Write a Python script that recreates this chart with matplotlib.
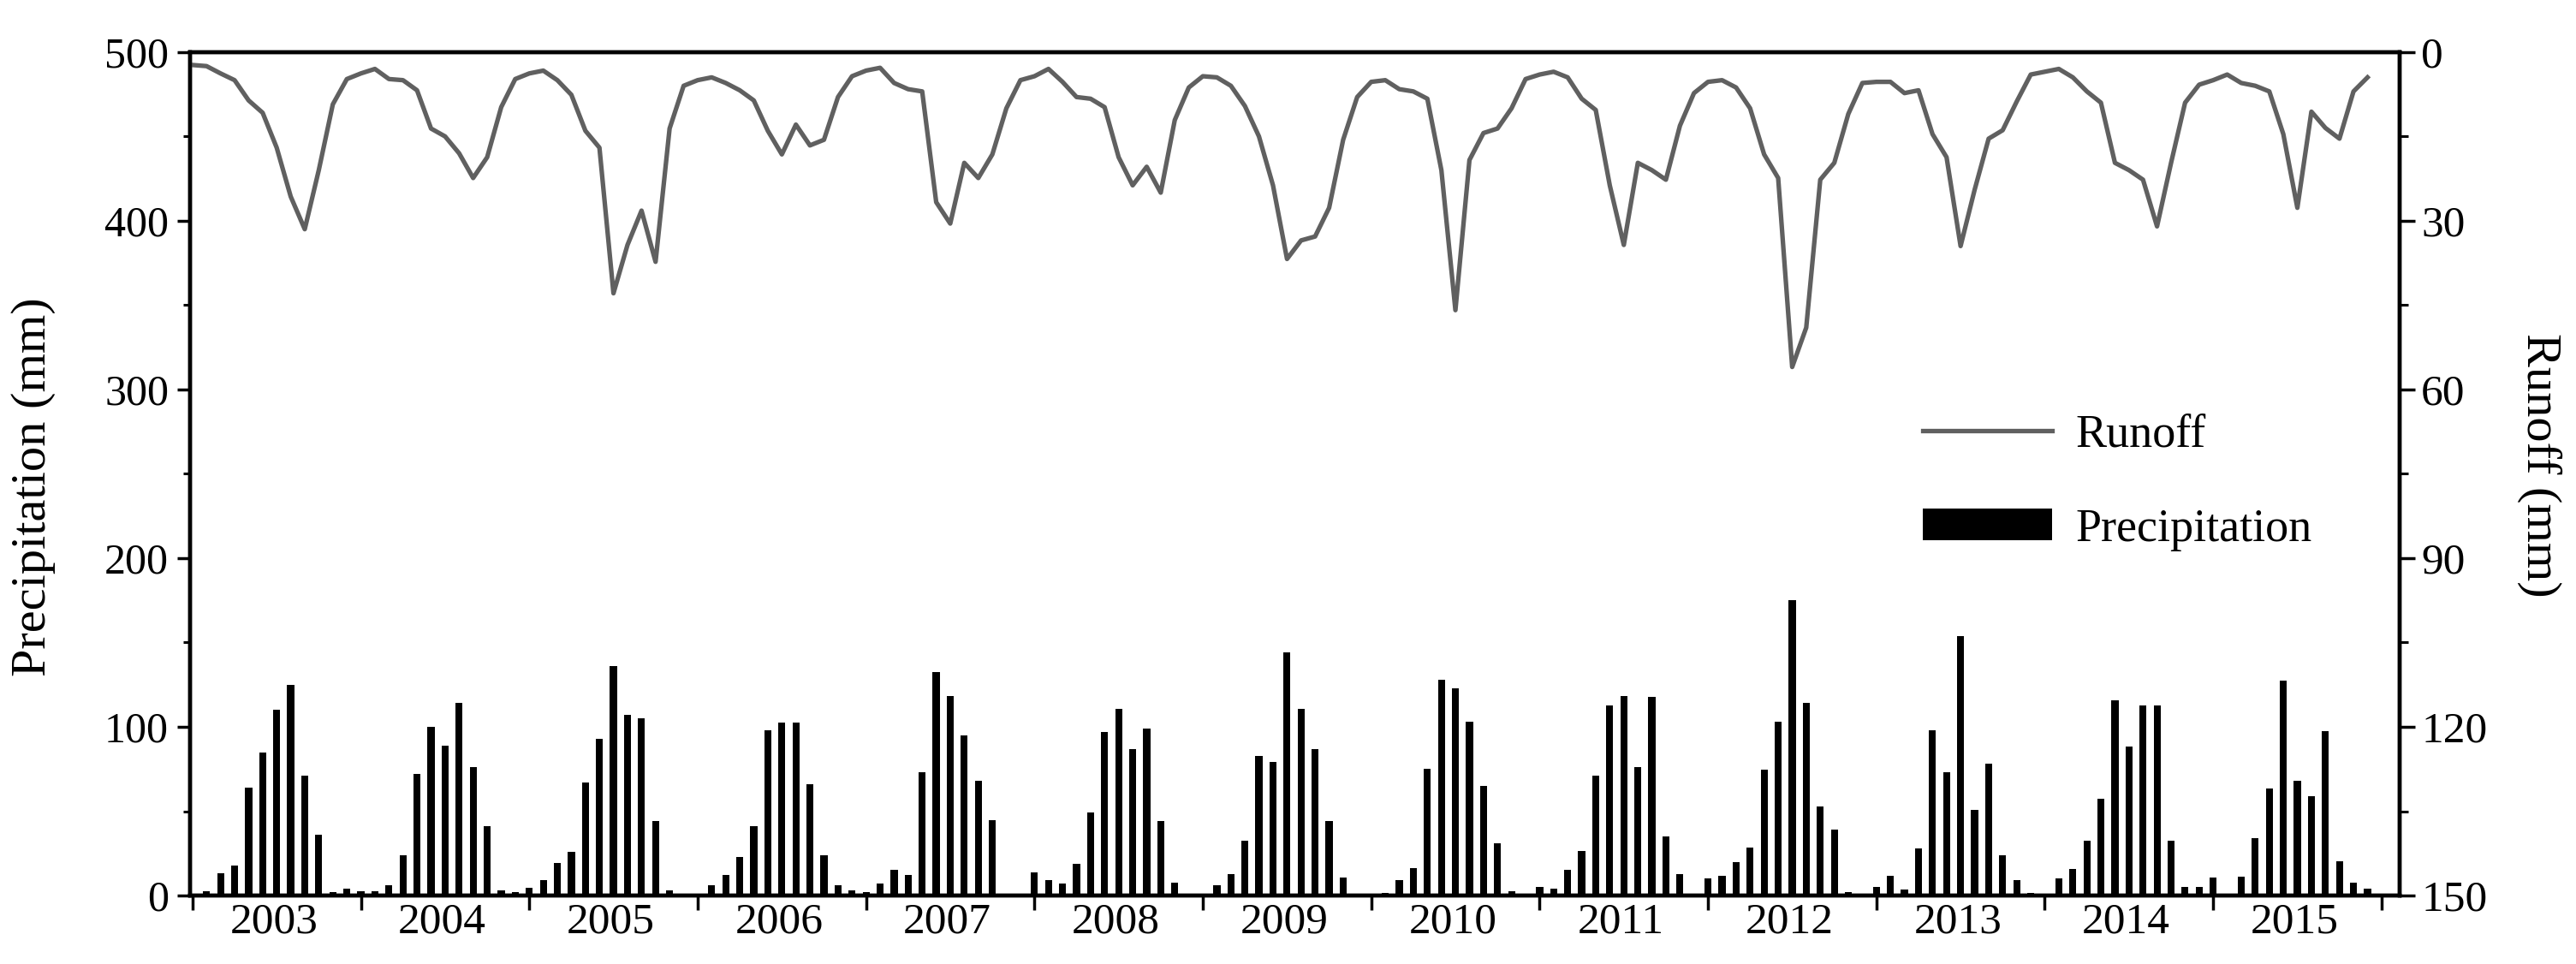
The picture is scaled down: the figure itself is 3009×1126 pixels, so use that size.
import numpy as np
import matplotlib
matplotlib.use("Agg")
import matplotlib.pyplot as plt
from matplotlib.ticker import MultipleLocator

plt.rcParams['font.family'] = ['Liberation Serif', 'DejaVu Serif']

# Datos (mm por mes, ene-dic de cada año)
years = list(range(2003, 2016))

precip_2003 = [1, 2.5, 13, 18, 64, 85, 110, 125, 71, 36, 2, 4]
precip_2004 = [2.5, 2.5, 6, 24, 72, 100, 89, 114, 76, 41, 3, 2]
precip_2005 = [4.5, 9, 19.5, 26, 67, 93, 136, 107, 105, 44, 3, 0.5]
precip_2006 = [0.5, 6, 12, 23, 41, 98, 102.5, 102.5, 66, 24, 6, 3]
precip_2007 = [2, 7, 15, 12, 73, 132.5, 118.5, 95, 68, 44.5, 0.5, 0.5]
precip_2008 = [13.5, 9, 7, 19, 49, 97, 110.5, 87, 99, 44, 7.5, 0.5]
precip_2009 = [1, 6, 12.5, 32.5, 82.5, 79, 144, 110.5, 87, 44, 10.5, 0.5]
precip_2010 = [0.5, 1.5, 9, 16.5, 75, 128, 123, 103, 65, 31, 2.5, 1]
precip_2011 = [5, 4, 15, 26.5, 71, 112.5, 118.5, 76, 118, 35, 12.5, 1]
precip_2012 = [10, 11.5, 20, 28.5, 74.5, 103, 175, 114, 53, 39, 2, 1]
precip_2013 = [5, 11.5, 3.5, 28, 98, 73, 154, 51, 78, 24, 9, 1.5]
precip_2014 = [1, 10, 16, 32.5, 57.5, 115.5, 88.5, 112.5, 112.5, 32.5, 5, 5]
precip_2015 = [10.5, 0.5, 11, 34, 63.5, 127.5, 68, 59, 97.5, 20.5, 7.5, 4]

runoff_2003 = [2.3, 2.5, 3.8, 5, 8.6, 10.8, 17, 25.7, 31.5, 21, 9.3, 4.8]
runoff_2004 = [3.8, 3, 4.8, 5, 6.8, 13.6, 15, 18, 22.4, 18.7, 9.8, 4.8]
runoff_2005 = [3.8, 3.3, 5, 7.6, 14, 17, 42.9, 34.3, 28.2, 37.3, 13.6, 6]
runoff_2006 = [5, 4.5, 5.5, 6.8, 8.6, 14, 18.2, 12.9, 16.6, 15.6, 8, 4.3]
runoff_2007 = [3.3, 2.8, 5.5, 6.6, 7, 26.7, 30.5, 19.7, 22.4, 18.2, 10, 5]
runoff_2008 = [4.3, 3, 5.3, 8, 8.3, 9.8, 18.7, 23.7, 20.4, 25, 12.1, 6.3]
runoff_2009 = [4.3, 4.5, 6, 9.6, 15, 23.7, 36.8, 33.5, 32.8, 27.7, 15.6, 8]
runoff_2010 = [5.3, 5, 6.6, 7, 8.3, 21, 45.9, 19.2, 14.4, 13.6, 10, 4.8]
runoff_2011 = [4, 3.5, 4.5, 8.3, 10.3, 23.7, 34.3, 19.7, 21, 22.7, 13.1, 7.3]
runoff_2012 = [5.3, 5, 6.3, 10, 18.2, 22.4, 56, 49, 22.7, 19.7, 11, 5.5]
runoff_2013 = [5.3, 5.3, 7.3, 6.8, 14.6, 18.7, 34.5, 24.5, 15.4, 13.9, 8.8, 4]
runoff_2014 = [3.5, 3, 4.5, 7, 9, 19.7, 21, 22.7, 31, 19.7, 9, 5.8]
runoff_2015 = [5, 4, 5.5, 6, 7, 14.6, 27.7, 10.6, 13.5, 15.4, 7, 4.5]

precip = np.concatenate([precip_2003, precip_2004, precip_2005, precip_2006,
                         precip_2007, precip_2008, precip_2009, precip_2010,
                         precip_2011, precip_2012, precip_2013, precip_2014,
                         precip_2015])
runoff = np.concatenate([runoff_2003, runoff_2004, runoff_2005, runoff_2006,
                         runoff_2007, runoff_2008, runoff_2009, runoff_2010,
                         runoff_2011, runoff_2012, runoff_2013, runoff_2014,
                         runoff_2015])
months = np.arange(len(precip))

# Figura
fig = plt.figure(figsize=(30.09, 11.26), dpi=100)
ax = fig.add_axes([0.0738, 0.071, 0.8578, 0.875])
ax2 = ax.twinx()

bars = ax.bar(months, precip, width=0.5, color='black', label='Precipitation')
line, = ax2.plot(months, runoff, color='#606060', lw=3.8, label='Runoff')

ax.set_xlim(-0.17, 157.3)
ax.set_ylim(0, 500)
ax2.set_ylim(150, 0)

# ejes y
ax.yaxis.set_major_locator(MultipleLocator(100))
ax.yaxis.set_minor_locator(MultipleLocator(50))
ax2.yaxis.set_major_locator(MultipleLocator(30))
ax2.yaxis.set_minor_locator(MultipleLocator(15))

ax.tick_params(axis='y', which='major', direction='out', length=11, width=2.5,
               labelsize=36, pad=7)
ax.tick_params(axis='y', which='minor', direction='out', length=6, width=2.2)
ax2.tick_params(axis='y', which='major', direction='out', length=13, width=2.5,
                labelsize=37, pad=5)
ax2.tick_params(axis='y', which='minor', direction='out', length=7, width=2.2)

# eje x: marcas en el cambio de año, etiquetas centradas
ax.set_xticks([12 * i for i in range(len(years) + 1)])
ax.set_xticklabels([])
ax.set_xticks([12 * i + 5.8 for i in range(len(years))], minor=True)
ax.set_xticklabels([str(y) for y in years], minor=True)
ax.tick_params(axis='x', which='major', direction='out', length=12, width=2.5)
ax.tick_params(axis='x', which='minor', length=0, labelsize=37, pad=6)

for a in (ax, ax2):
    for s in a.spines.values():
        s.set_linewidth(3.2)

ax.set_ylabel('Precipitation (mm)', fontsize=42)
ax.yaxis.set_label_coords(-0.061, 0.485)
ax2.set_ylabel('Runoff (mm)', fontsize=42, rotation=270, va='center')
ax2.yaxis.set_label_coords(1.063, 0.51)

ax2.legend([line, bars], ['Runoff', 'Precipitation'], loc='center left',
           bbox_to_anchor=(0.784, 0.49), frameon=False, fontsize=39,
           handlelength=2.8, handleheight=0.65, handletextpad=0.5,
           labelspacing=1.1, borderpad=0, borderaxespad=0)

fig.savefig('out.png', dpi=100)
